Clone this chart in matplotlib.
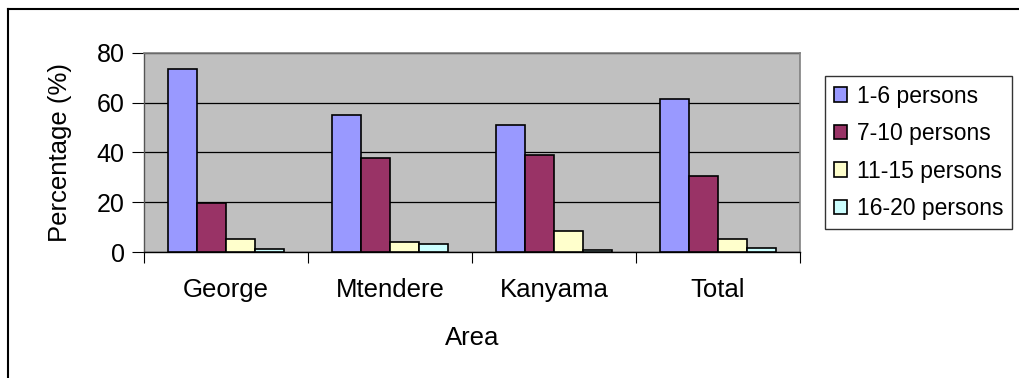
import matplotlib
matplotlib.use("Agg")
import matplotlib.pyplot as plt
import numpy as np
from matplotlib.lines import Line2D

plt.rcParams['font.family'] = ['Liberation Sans', 'DejaVu Sans']

areas = ["George", "Mtendere", "Kanyama", "Total"]
series_names = ["1-6 persons", "7-10 persons", "11-15 persons", "16-20 persons"]
v_1_6 = [73.6, 55.1, 51.1, 61.6]
v_7_10 = [19.8, 37.6, 39.1, 30.5]
v_11_15 = [5.3, 4.0, 8.6, 5.3]
v_16_20 = [1.3, 3.2, 0.8, 1.6]
series_values = [v_1_6, v_7_10, v_11_15, v_16_20]
colors = ["#9999FF", "#993366", "#FFFFCC", "#CCFFFF"]
yticks = [0, 20, 40, 60, 80]

fig = plt.figure(figsize=(10.2, 3.78), dpi=100)
ax = fig.add_axes([144/1020, 1 - 252/378, (800-144)/1020, (252-52.7)/378])
ax.set_facecolor("#C0C0C0")

x = np.arange(len(areas))
w = 29/164
for i, (name, vals, c) in enumerate(zip(series_names, series_values, colors)):
    ax.bar(x + (i - 1.5) * w, vals, width=w, color=c, edgecolor="black",
           linewidth=1.2, label=name, zorder=3)

ax.set_xlim(-0.5, len(areas) - 0.5)
ax.set_ylim(0, 80)
ax.set_yticks(yticks)
ax.set_yticklabels([str(t) for t in yticks], fontsize=18)
ax.yaxis.grid(True, color="black", linewidth=0.9, zorder=1)
ax.set_axisbelow(True)

ax.set_xticks(np.arange(-0.5, len(areas)), minor=False)
ax.set_xticklabels([])
ax.set_xticks(x, minor=True)
ax.set_xticklabels(areas, minor=True, fontsize=18.5)
ax.tick_params(axis="x", which="major", length=8, width=0.8, color="black", direction="out")
ax.tick_params(axis="x", which="minor", length=0, pad=19)
ax.tick_params(axis="y", length=9, width=0.8, direction="out", pad=5)

for s in ["top", "right"]:
    ax.spines[s].set_color("#808080")
    ax.spines[s].set_linewidth(1.2)
ax.spines["left"].set_color("#555555")
ax.spines["left"].set_linewidth(1.0)
ax.spines["bottom"].set_color("black")
ax.spines["bottom"].set_linewidth(1.0)

ax.set_xlabel("Area", fontsize=18.5, labelpad=17)
ax.set_ylabel("Percentage (%)", fontsize=18.5, labelpad=18)

leg = fig.legend(loc="upper left", bbox_to_anchor=(825/1020, 1 - 76/378),
                 fontsize=16.5, frameon=True, fancybox=False, edgecolor="black",
                 handlelength=0.6, handleheight=0.6, handletextpad=0.4,
                 labelspacing=0.63, borderpad=0.38, borderaxespad=0)
leg.get_frame().set_linewidth(1.0)

fig.add_artist(Line2D([8/1020, 8/1020], [0, 1 - 9/378], color="black", linewidth=1.5, transform=fig.transFigure))
fig.add_artist(Line2D([8/1020, 1], [1 - 9/378, 1 - 9/378], color="black", linewidth=1.5, transform=fig.transFigure))

fig.savefig("out.png", dpi=100, facecolor="white")
